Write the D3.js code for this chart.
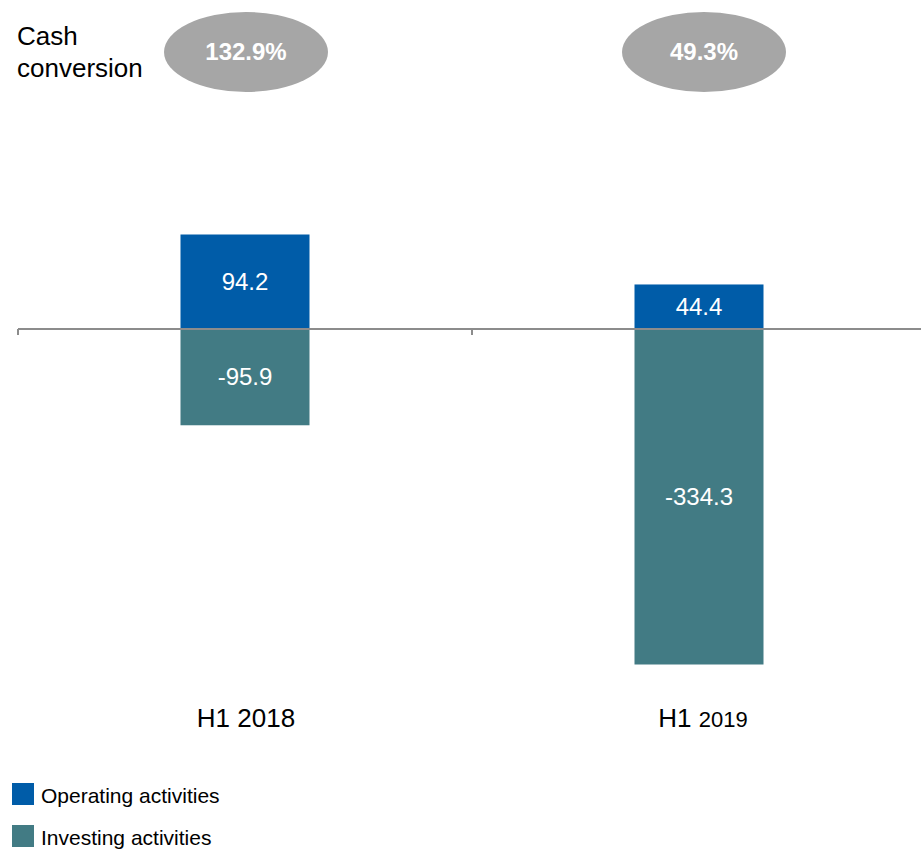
<!DOCTYPE html>
<html><head><meta charset="utf-8">
<script src="https://cdn.jsdelivr.net/npm/d3@7"></script>
<style>body{margin:0;background:#fff}svg{display:block;font-family:Arial,"Liberation Sans",sans-serif}</style>
</head><body>
<svg id="c" width="921" height="849"></svg>
<script>
const categories = ["H1 2018", "H1 2019"];
const operating = [94.2, 44.4];
const investing = [-95.9, -334.3];
const cashConversion = ["132.9%", "49.3%"];
const seriesNames = ["Operating activities", "Investing activities"];
const colors = ["#005ca8", "#427b84"];

const svg = d3.select("#c");
const x = d3.scaleBand().domain(categories).range([18, 926]).paddingInner(0).paddingOuter(0);
const y = d3.scaleLinear().domain([-334.3, 94.2]).range([664.5, 234.5]);
const barW = 129;
const cx = c => x(c) + x.bandwidth() / 2;

// bars
const data = categories.map((c, i) => ({c, op: operating[i], inv: investing[i]}));
svg.selectAll("rect.op").data(data).enter().append("rect")
  .attr("x", d => cx(d.c) - barW / 2).attr("width", barW)
  .attr("y", d => y(d.op)).attr("height", d => y(0) - y(d.op)).attr("fill", colors[0]);
svg.selectAll("rect.inv").data(data).enter().append("rect")
  .attr("x", d => cx(d.c) - barW / 2).attr("width", barW)
  .attr("y", y(0)).attr("height", d => y(d.inv) - y(0)).attr("fill", colors[1]);

// axis
svg.append("line").attr("x1", 18).attr("x2", 921).attr("y1", y(0)).attr("y2", y(0))
  .attr("stroke", "#8c8c8c").attr("stroke-width", 2);
categories.forEach(c => {
  svg.append("line").attr("x1", x(c)).attr("x2", x(c)).attr("y1", y(0)).attr("y2", y(0) + 6)
    .attr("stroke", "#8c8c8c").attr("stroke-width", 2);
});

// labels in bars
svg.selectAll("text.op").data(data).enter().append("text")
  .attr("x", d => cx(d.c)).attr("y", d => (y(d.op) + y(0)) / 2 + 8)
  .attr("text-anchor", "middle").attr("fill", "#fff").attr("font-size", 24)
  .text(d => d.op.toFixed(1));
svg.selectAll("text.inv").data(data).enter().append("text")
  .attr("x", d => cx(d.c)).attr("y", d => (y(d.inv) + y(0)) / 2 + 8)
  .attr("text-anchor", "middle").attr("fill", "#fff").attr("font-size", 24)
  .text(d => d.inv.toFixed(1));

// category labels
const catOffsets = [1, 4];
categories.forEach((c, i) => {
  const parts = c.split(" ");
  const t = svg.append("text").attr("x", cx(c) + catOffsets[i]).attr("y", 727)
    .attr("text-anchor", "middle").attr("fill", "#000").attr("font-size", 26);
  t.append("tspan").text(parts[0] + " ");
  t.append("tspan").attr("font-size", i === 1 ? 22 : 26).text(parts[1]);
});

// cash conversion ellipses
svg.append("text").attr("x", 17).attr("y", 45).attr("font-size", 26).attr("fill", "#000").text("Cash");
svg.append("text").attr("x", 17).attr("y", 77).attr("font-size", 26).attr("fill", "#000").text("conversion");
const ellOff = [1, 5];
categories.forEach((c, i) => {
  svg.append("ellipse").attr("cx", cx(c) + ellOff[i]).attr("cy", 52).attr("rx", 82).attr("ry", 40)
    .attr("fill", "#a6a6a6");
  svg.append("text").attr("x", cx(c) + ellOff[i]).attr("y", 60).attr("text-anchor", "middle")
    .attr("fill", "#fff").attr("font-weight", "bold").attr("font-size", 24).text(cashConversion[i]);
});

// legend
seriesNames.forEach((n, i) => {
  const yy = 783 + i * 42;
  svg.append("rect").attr("x", 12).attr("y", yy).attr("width", 22).attr("height", 22).attr("fill", colors[i]);
  svg.append("text").attr("x", 41).attr("y", yy + 20).attr("font-size", 21).attr("fill", "#000").text(n);
});
</script>
</body></html>
